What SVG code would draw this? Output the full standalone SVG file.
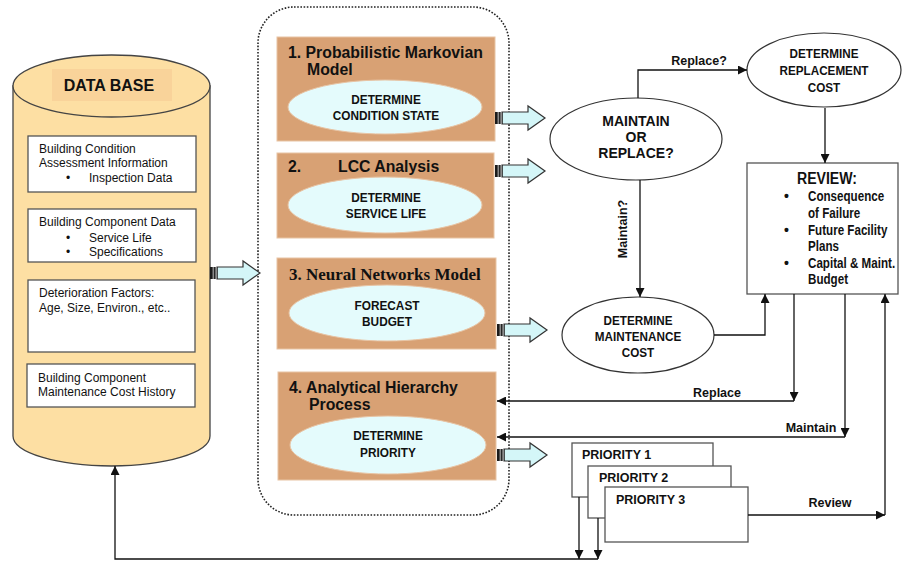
<svg xmlns="http://www.w3.org/2000/svg" width="902" height="561" viewBox="0 0 902 561">
  <style>
    .reg { font-family: "Liberation Sans", Arial, sans-serif; font-size: 12px; fill: #111; }
    .hd { font-family: "Liberation Sans", Arial, sans-serif; font-weight: bold; font-size: 15.8px; fill: #111; }
    .hds { font-family: "Liberation Serif", "Times New Roman", serif; font-weight: bold; font-size: 17px; fill: #111; }
    .nb { font-family: "Liberation Sans", Arial, sans-serif; font-weight: bold; font-size: 13px; fill: #111; }
    .rv { font-family: "Liberation Sans", Arial, sans-serif; font-weight: bold; font-size: 14px; fill: #111; }
    .lbl { font-family: "Liberation Sans", Arial, sans-serif; font-weight: bold; font-size: 12.5px; fill: #111; }
    .box { fill: #fff; stroke: #555; stroke-width: 1.3; }
    .model { fill: #D8A174; stroke: #E8C4A4; stroke-width: 1; }
    .task { fill: #E4FBFC; stroke: #E8C4A4; stroke-width: 1; }
    .node { fill: #fff; stroke: #333; stroke-width: 1.2; }
    .wire { fill: none; stroke: #111; stroke-width: 1.3; }
    .mid { text-anchor: middle; }
  </style>
  <defs>
    <marker id="tip" viewBox="0 0 10 10" refX="10" refY="5" markerWidth="10" markerHeight="9" markerUnits="userSpaceOnUse" orient="auto">
      <path d="M0,0 L10,5 L0,10 Z" fill="#111"/>
    </marker>
    <!-- striped block arrow, origin at tail centre -->
    <g id="blockArrow">
      <path d="M7,-6 H33 V-12 L50,0 L33,12 V6 H7 Z" fill="#D4F6F8" stroke="#333" stroke-width="1.2"/>
      <rect x="0" y="-6" width="7.5" height="12" fill="#1b1b1b"/>
      <rect x="2.5" y="-6" width="1.6" height="12" fill="#8a8a8a"/>
      <rect x="5.5" y="-6" width="1.2" height="12" fill="#bdbdbd"/>
    </g>
  </defs>

  <!-- database cylinder -->
  <g id="database">
    <path d="M13,86 V436 A98.5,30 0 0 0 210,436 V86 Z" fill="#FDDFA3" stroke="#444" stroke-width="1.3"/>
    <ellipse cx="111.5" cy="86" rx="98.5" ry="31" fill="#FDDFA3" stroke="#444" stroke-width="1.3"/>
    <rect x="52" y="69" width="120" height="32" fill="#F9D39A"/>
    <text class="hd mid" x="109" y="91" style="font-size:16px">DATA BASE</text>
    <rect class="box" x="28" y="136" width="168" height="56"/>
    <text class="reg" x="39" y="153">Building Condition</text>
    <text class="reg" x="39" y="167">Assessment Information</text>
    <text class="reg" x="66" y="182">•</text>
    <text class="reg" x="89" y="182">Inspection Data</text>
    <rect class="box" x="28" y="209" width="168" height="53"/>
    <text class="reg" x="39" y="226">Building Component Data</text>
    <text class="reg" x="66" y="242">•</text>
    <text class="reg" x="89" y="242">Service Life</text>
    <text class="reg" x="66" y="256">•</text>
    <text class="reg" x="89" y="256">Specifications</text>
    <rect class="box" x="28" y="280" width="167" height="72"/>
    <text class="reg" x="39" y="297">Deterioration Factors:</text>
    <text class="reg" x="39" y="312">Age, Size, Environ., etc..</text>
    <rect class="box" x="27" y="364" width="168" height="43"/>
    <text class="reg" x="38" y="382">Building Component</text>
    <text class="reg" x="38" y="396">Maintenance Cost History</text>
  </g>

  <!-- grouping frame for the four models -->
  <rect id="models-frame" x="258" y="7" width="251" height="508" rx="36" ry="36" fill="none" stroke="#222" stroke-width="1.6" stroke-dasharray="1.6 1.6"/>

  <g id="model-1">
    <rect class="model" x="277" y="37" width="218" height="104"/>
    <text class="hd" x="288" y="58">1.  Probabilistic Markovian</text>
    <text class="hd" x="307" y="75">Model</text>
    <ellipse class="task" cx="385" cy="107" rx="97" ry="27"/>
    <text class="nb mid" transform="translate(386,104) scale(0.91,1)">DETERMINE</text>
    <text class="nb mid" transform="translate(386,120) scale(0.91,1)">CONDITION STATE</text>
  </g>

  <g id="model-2">
    <rect class="model" x="277" y="153" width="217" height="85"/>
    <text class="hd" x="288" y="172">2.</text>
    <text class="hd" x="338" y="172">LCC Analysis</text>
    <ellipse class="task" cx="385" cy="205" rx="97" ry="28"/>
    <text class="nb mid" transform="translate(386,202) scale(0.91,1)">DETERMINE</text>
    <text class="nb mid" transform="translate(386,218) scale(0.91,1)">SERVICE LIFE</text>
  </g>

  <g id="model-3">
    <rect class="model" x="277" y="258" width="219" height="91"/>
    <text class="hds" x="289" y="280">3.  Neural Networks Model</text>
    <ellipse class="task" cx="387" cy="313" rx="98" ry="28"/>
    <text class="nb mid" transform="translate(387,310) scale(0.91,1)">FORECAST</text>
    <text class="nb mid" transform="translate(387,326) scale(0.91,1)">BUDGET</text>
  </g>

  <g id="model-4">
    <rect class="model" x="278" y="372" width="218" height="108"/>
    <text class="hd" x="289" y="393">4.  Analytical Hierarchy</text>
    <text class="hd" x="309" y="410">Process</text>
    <ellipse class="task" cx="388" cy="445" rx="98" ry="29"/>
    <text class="nb mid" transform="translate(388,440) scale(0.91,1)">DETERMINE</text>
    <text class="nb mid" transform="translate(388,457) scale(0.91,1)">PRIORITY</text>
  </g>

  <g id="maintain-or-replace">
    <ellipse class="node" cx="636" cy="139" rx="86" ry="41"/>
    <text class="rv mid" x="636" y="126">MAINTAIN</text>
    <text class="rv mid" x="636" y="142">OR</text>
    <text class="rv mid" x="636" y="158">REPLACE?</text>
  </g>

  <g id="replacement-cost">
    <ellipse class="node" cx="824" cy="70" rx="77" ry="37"/>
    <text class="nb mid" transform="translate(824,58) scale(0.9,1)">DETERMINE</text>
    <text class="nb mid" transform="translate(824,75) scale(0.9,1)">REPLACEMENT</text>
    <text class="nb mid" transform="translate(824,92) scale(0.9,1)">COST</text>
  </g>

  <g id="maintenance-cost">
    <ellipse class="node" cx="638" cy="335" rx="76" ry="38"/>
    <text class="nb mid" transform="translate(638,325) scale(0.9,1)">DETERMINE</text>
    <text class="nb mid" transform="translate(638,341) scale(0.9,1)">MAINTENANCE</text>
    <text class="nb mid" transform="translate(638,357) scale(0.9,1)">COST</text>
  </g>

  <g id="review">
    <rect class="box" x="747" y="163" width="151" height="131"/>
    <text class="rv mid" transform="translate(827,184) scale(0.83,1)" style="font-size:17px">REVIEW:</text>
    <text class="rv" x="784" y="201">•</text>
    <text class="rv" transform="translate(808,201) scale(0.83,1)">Consequence</text>
    <text class="rv" transform="translate(808,218) scale(0.83,1)">of Failure</text>
    <text class="rv" x="784" y="235">•</text>
    <text class="rv" transform="translate(808,235) scale(0.83,1)">Future Facility</text>
    <text class="rv" transform="translate(808,251) scale(0.83,1)">Plans</text>
    <text class="rv" x="784" y="268">•</text>
    <text class="rv" transform="translate(808,268) scale(0.83,1)">Capital &amp; Maint.</text>
    <text class="rv" transform="translate(808,284) scale(0.83,1)">Budget</text>
  </g>

  <g id="priority-1">
    <rect class="box" x="572" y="443" width="141" height="54"/>
    <text class="lbl" x="582" y="459">PRIORITY 1</text>
  </g>
  <g id="priority-2">
    <rect class="box" x="588" y="466" width="143" height="52"/>
    <text class="lbl" x="599" y="482">PRIORITY 2</text>
  </g>
  <g id="priority-3">
    <rect class="box" x="605" y="487" width="143" height="55"/>
    <text class="lbl" x="616" y="504">PRIORITY 3</text>
  </g>

  <g id="connectors">
    <!-- block arrows -->
    <use href="#blockArrow" x="210" y="273"/>
    <use href="#blockArrow" x="495" y="118"/>
    <use href="#blockArrow" x="495" y="171"/>
    <use href="#blockArrow" x="497" y="330"/>
    <use href="#blockArrow" x="497" y="455"/>

    <!-- decision flow -->
    <path class="wire" d="M638,98 V70 H747" marker-end="url(#tip)"/>
    <text class="lbl mid" x="699" y="65">Replace?</text>
    <path class="wire" d="M640,180 V297" marker-end="url(#tip)"/>
    <text class="lbl mid" transform="translate(627,229) rotate(-90)">Maintain?</text>
    <path class="wire" d="M825,108 V163" marker-end="url(#tip)"/>
    <path class="wire" d="M714,335 H765 V294" marker-end="url(#tip)"/>

    <!-- review outcomes back to AHP -->
    <path class="wire" d="M794,294 V401" marker-end="url(#tip)"/>
    <path class="wire" d="M794,401 H497" marker-end="url(#tip)"/>
    <text class="lbl mid" x="717" y="397">Replace</text>
    <path class="wire" d="M845,294 V437" marker-end="url(#tip)"/>
    <path class="wire" d="M845,437 H497" marker-end="url(#tip)"/>
    <text class="lbl mid" x="811" y="432">Maintain</text>

    <!-- priorities to review -->
    <path class="wire" d="M748,515 H885" marker-end="url(#tip)"/>
    <text class="lbl mid" x="830" y="507">Review</text>
    <path class="wire" d="M885,515 V294" marker-end="url(#tip)"/>

    <!-- priorities back to database -->
    <path class="wire" d="M579,497 V559" marker-end="url(#tip)"/>
    <path class="wire" d="M598,518 V559" marker-end="url(#tip)"/>
    <path class="wire" d="M598,559 H115 V466" marker-end="url(#tip)"/>
  </g>
</svg>
